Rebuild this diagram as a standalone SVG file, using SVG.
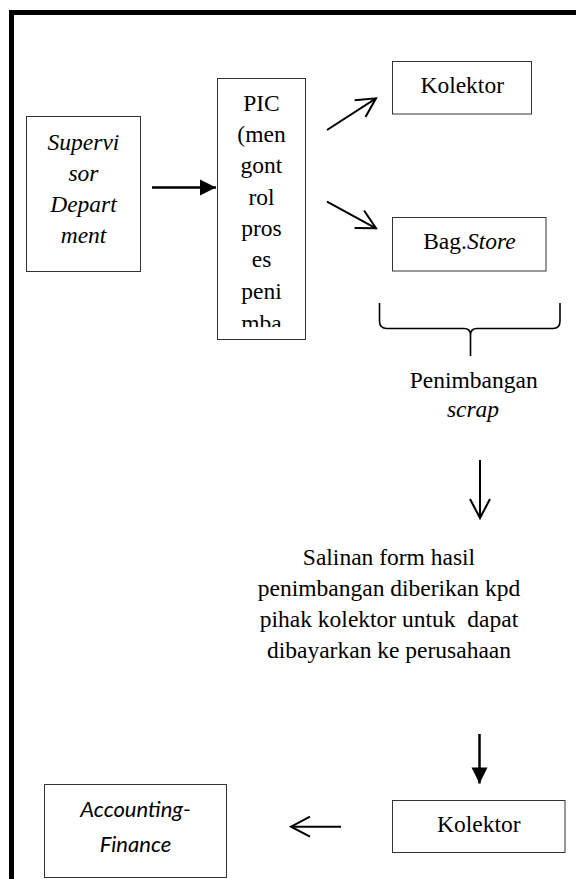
<svg xmlns="http://www.w3.org/2000/svg" width="576" height="879" viewBox="0 0 576 879" font-family="Liberation Serif, Times New Roman, Times, DejaVu Serif, serif">
<style>
  .box { fill: #fff; stroke: #333; stroke-width: 1; }
  .t { font-size: 23.5px; fill: #000; text-anchor: middle; }
  .it { font-style: italic; }
  .sans { font-size: 22px; font-style: italic; fill: #000; text-anchor: middle; }
  .line { stroke: #000; fill: none; }
  .open { stroke-width: 2; marker-end: url(#openArrow); }
  .solid { stroke-width: 2.5; marker-end: url(#solidArrow); }
</style>
<defs>
  <marker id="openArrow" markerUnits="userSpaceOnUse" markerWidth="24" markerHeight="24" refX="21" refY="12" orient="auto" overflow="visible">
    <path d="M2,2 L21,12 L2,22" fill="none" stroke="#000" stroke-width="2"/>
  </marker>
  <marker id="solidArrow" markerUnits="userSpaceOnUse" markerWidth="18" markerHeight="18" refX="16" refY="8" orient="auto" overflow="visible">
    <path d="M0,0 L16,8 L0,16 Z" fill="#000"/>
  </marker>
  <clipPath id="picClip">
    <rect x="217" y="78" width="88" height="249"/>
  </clipPath>
</defs>

<rect width="576" height="879" fill="#fff"/>
<rect x="11.5" y="12.5" width="620" height="920" fill="none" stroke="#000" stroke-width="5"/>

<g id="supervisor">
  <rect class="box" x="26.5" y="116.5" width="114" height="155"/>
  <text class="t it" x="83.5" y="149.5">Supervi</text>
  <text class="t it" x="83.5" y="180.7">sor</text>
  <text class="t it" x="83.5" y="211.9">Depart</text>
  <text class="t it" x="83.5" y="243.1">ment</text>
</g>

<g id="pic">
  <rect class="box" x="217.5" y="78.5" width="88" height="261"/>
  <g clip-path="url(#picClip)">
    <text class="t" x="261.5" y="110.7">PIC</text>
    <text class="t" x="261.5" y="142">(men</text>
    <text class="t" x="261.5" y="173.3">gont</text>
    <text class="t" x="261.5" y="204.6">rol</text>
    <text class="t" x="261.5" y="235.9">pros</text>
    <text class="t" x="261.5" y="267.2">es</text>
    <text class="t" x="261.5" y="298.5">peni</text>
    <text class="t" x="261.5" y="331">mba</text>
  </g>
</g>

<g id="kolektor-top">
  <rect class="box" x="392.5" y="61.5" width="139" height="52.5"/>
  <text class="t" x="462.2" y="93.3">Kolektor</text>
</g>

<g id="bag-store">
  <rect class="box" x="392.5" y="217.5" width="153.5" height="53.5"/>
  <text class="t" x="469.4" y="249">Bag.<tspan class="it">Store</tspan></text>
</g>

<g id="penimbangan">
  <path class="line" stroke-width="1.6" d="M379.5,303 V321 Q379.5,328.5 387,328.5 H464 Q470.5,328.5 470.5,335 Q470.5,328.5 477,328.5 H553 Q560,328.5 560,321 V303 M470.5,335 V356"/>
  <text class="t" x="473.7" y="388.3">Penimbangan</text>
  <text class="t it" x="473" y="416.7">scrap</text>
</g>

<g id="salinan">
  <text class="t" x="389" y="565">Salinan form hasil</text>
  <text class="t" x="389" y="596">penimbangan diberikan kpd</text>
  <text class="t" x="389" y="627" xml:space="preserve">pihak kolektor untuk  dapat</text>
  <text class="t" x="389" y="658">dibayarkan ke perusahaan</text>
</g>

<g id="kolektor-bottom">
  <rect class="box" x="392.5" y="800.5" width="172.5" height="52"/>
  <text class="t" x="478.8" y="831.7">Kolektor</text>
</g>

<g id="accounting-finance" font-family="Lato, Open Sans, sans-serif">
  <rect class="box" x="44.5" y="784.5" width="182" height="93"/>
  <text class="sans" x="135.5" y="816.7">Accounting-</text>
  <text class="sans" x="135.5" y="851.7">Finance</text>
</g>

<g id="connectors">
  <line class="line solid" x1="152" y1="187.5" x2="216" y2="187.5"/>
  <line class="line open" x1="327" y1="130" x2="376" y2="98.3"/>
  <line class="line open" x1="327" y1="201.7" x2="376" y2="228.3"/>
  <line class="line open" x1="480" y1="460" x2="480" y2="518"/>
  <line class="line solid" x1="479.5" y1="734" x2="479.5" y2="783.5"/>
  <line class="line open" x1="341" y1="826.7" x2="291" y2="826.7"/>
</g>
</svg>
